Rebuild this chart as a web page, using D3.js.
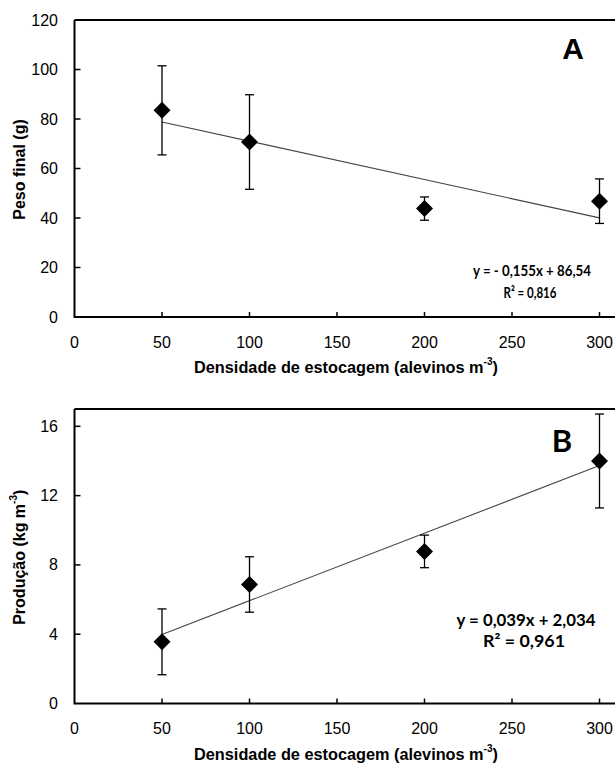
<!DOCTYPE html>
<html><head><meta charset="utf-8">
<script src="https://cdn.jsdelivr.net/npm/d3@7"></script>
<style>body{margin:0;background:#fff}svg{display:block}</style>
</head><body>
<script>
// ---- data ----
const densities = [50, 100, 200, 300];
const pesoFinal = [83.5, 70.7, 43.8, 46.8];
const pesoErr = [18.0, 19.1, 4.7, 9.0];
const producao = [3.56, 6.87, 8.78, 14.0];
const producaoErr = [1.9, 1.6, 0.94, 2.71];
const xTicks = [0, 50, 100, 150, 200, 250, 300];
const yTicksA = [0, 20, 40, 60, 80, 100, 120];
const yTicksB = [0, 4, 8, 12, 16];
const trendA = {slope: -0.155, intercept: 86.54, eq: "y = - 0,155x + 86,54", r2: "R² = 0,816"};
const trendB = {slope: 0.039, intercept: 2.034, eq: "y = 0,039x + 2,034", r2: "R² = 0,961"};
const xTitle = "Densidade de estocagem (alevinos m";
const yTitleA = "Peso final (g)";
const yTitleB = "Produção (kg m";

const W = 615, H = 765;
const svg = d3.select("body").append("svg").attr("width", W).attr("height", H);
const tickFont = "'Liberation Sans', Arial, sans-serif";

function panel(opt) {
  const x = d3.scaleLinear().domain([0, 300]).range([74.5, 599.5]);
  const y = d3.scaleLinear().domain([0, opt.ymax]).range([opt.bottom, opt.top]);
  const g = svg.append("g");
  // frame
  g.append("path")
    .attr("d", `M${x(0)},${y(opt.ymax)} H${x(320)} M${x(0)},${y(opt.ymax)} V${y(0)} H${x(320)}`)
    .attr("fill", "none").attr("stroke", "#000").attr("stroke-width", 2);
  // x ticks (inward)
  g.selectAll(".xt").data(xTicks.slice(1)).enter().append("line")
    .attr("x1", d => x(d)).attr("x2", d => x(d))
    .attr("y1", y(0)).attr("y2", y(0) - 5)
    .attr("stroke", "#000").attr("stroke-width", 1.5);
  g.selectAll(".xl").data(xTicks).enter().append("text")
    .attr("x", d => x(d)).attr("y", y(0) + 25)
    .attr("text-anchor", "middle").attr("dominant-baseline", "central")
    .attr("font-family", tickFont).attr("font-size", 16).text(d => d);
  // y ticks (inward)
  g.selectAll(".yt").data(opt.yTicks.filter(d => d > 0 && d < opt.ymax)).enter().append("line")
    .attr("x1", x(0)).attr("x2", x(0) + 6)
    .attr("y1", d => y(d)).attr("y2", d => y(d))
    .attr("stroke", "#000").attr("stroke-width", 1.5);
  g.selectAll(".yl").data(opt.yTicks).enter().append("text")
    .attr("x", 58).attr("y", d => y(d))
    .attr("text-anchor", "end").attr("dominant-baseline", "central")
    .attr("font-family", tickFont).attr("font-size", 16).text(d => d);
  // x title
  const xt = g.append("text").attr("x", 346).attr("y", y(0) + 50)
    .attr("text-anchor", "middle").attr("dominant-baseline", "central")
    .attr("font-family", tickFont).attr("font-weight", "bold").attr("font-size", 16.3);
  xt.append("tspan").text(xTitle);
  xt.append("tspan").attr("font-size", 10).attr("dy", -6).text("-3");
  xt.append("tspan").attr("dy", 6).text(")");
  // y title
  const yt = g.append("text")
    .attr("transform", `translate(19,${(y(0) + y(opt.ymax)) / 2 + 1}) rotate(-90)`)
    .attr("text-anchor", "middle").attr("dominant-baseline", "central")
    .attr("font-family", tickFont).attr("font-weight", "bold").attr("font-size", 16);
  yt.append("tspan").text(opt.yTitle);
  if (opt.sup) {
    yt.append("tspan").attr("font-size", 10).attr("dy", -6).text("-3");
    yt.append("tspan").attr("dy", 6).text(")");
  }
  // trendline
  const tr = opt.trend;
  g.append("line")
    .attr("x1", x(densities[0])).attr("y1", y(tr.slope * densities[0] + tr.intercept))
    .attr("x2", x(densities[densities.length - 1])).attr("y2", y(tr.slope * densities[densities.length - 1] + tr.intercept))
    .attr("stroke", "#444").attr("stroke-width", 1.1);
  // error bars
  const data = densities.map((d, i) => ({x: d, v: opt.vals[i], e: opt.errs[i]}));
  const eb = g.selectAll(".eb").data(data).enter().append("g");
  eb.append("line").attr("x1", d => x(d.x)).attr("x2", d => x(d.x))
    .attr("y1", d => y(d.v + d.e)).attr("y2", d => y(d.v - d.e))
    .attr("stroke", "#000").attr("stroke-width", 1.3);
  [1, -1].forEach(s => {
    eb.append("line").attr("x1", d => x(d.x) - 4.5).attr("x2", d => x(d.x) + 4.5)
      .attr("y1", d => y(d.v + s * d.e)).attr("y2", d => y(d.v + s * d.e))
      .attr("stroke", "#000").attr("stroke-width", 1.3);
  });
  // diamonds
  g.selectAll(".pt").data(data).enter().append("path")
    .attr("transform", d => `translate(${x(d.x)},${y(d.v)})`)
    .attr("d", "M0,-8.5L8.5,0L0,8.5L-8.5,0Z").attr("fill", "#000");
  // equation
  g.append("text").attr("x", opt.eqX).attr("y", opt.eqY)
    .attr("text-anchor", "middle").attr("dominant-baseline", "central")
    .attr("font-family", "Lato, 'Open Sans', sans-serif").attr("font-weight", "bold")
    .attr("font-size", opt.eqSize).attr("textLength", opt.eqW).attr("lengthAdjust", "spacingAndGlyphs")
    .text(tr.eq);
  g.append("text").attr("x", opt.r2X).attr("y", opt.eqY + opt.r2dy)
    .attr("text-anchor", "middle").attr("dominant-baseline", "central")
    .attr("font-family", "Lato, 'Open Sans', sans-serif").attr("font-weight", "bold")
    .attr("font-size", opt.eqSize).attr("textLength", opt.r2W).attr("lengthAdjust", "spacingAndGlyphs")
    .text(tr.r2);
  // panel letter
  g.append("text").attr("x", opt.lx).attr("y", opt.ly)
    .attr("text-anchor", "middle").attr("dominant-baseline", "central")
    .attr("font-family", opt.lfont).attr("font-weight", "bold").attr("font-size", opt.lsize)
    .text(opt.letter);
}

panel({top: 20, bottom: 317, ymax: 120, yTicks: yTicksA, vals: pesoFinal, errs: pesoErr,
  trend: trendA, yTitle: yTitleA, sup: false,
  eqX: 532, eqY: 270, eqW: 118, r2X: 530, r2W: 53, r2dy: 21.5, eqSize: 15.5,
  letter: "A", lx: 573, ly: 48, lsize: 30, lfont: tickFont});

panel({top: 409, bottom: 703.5, ymax: 17, yTicks: yTicksB, vals: producao, errs: producaoErr,
  trend: trendB, yTitle: yTitleB, sup: true,
  eqX: 526, eqY: 619, eqW: 139, r2X: 524, r2W: 82, r2dy: 21.5, eqSize: 17,
  letter: "B", lx: 562, ly: 440, lsize: 31, lfont: "Lato, sans-serif"});
</script>
</body></html>
